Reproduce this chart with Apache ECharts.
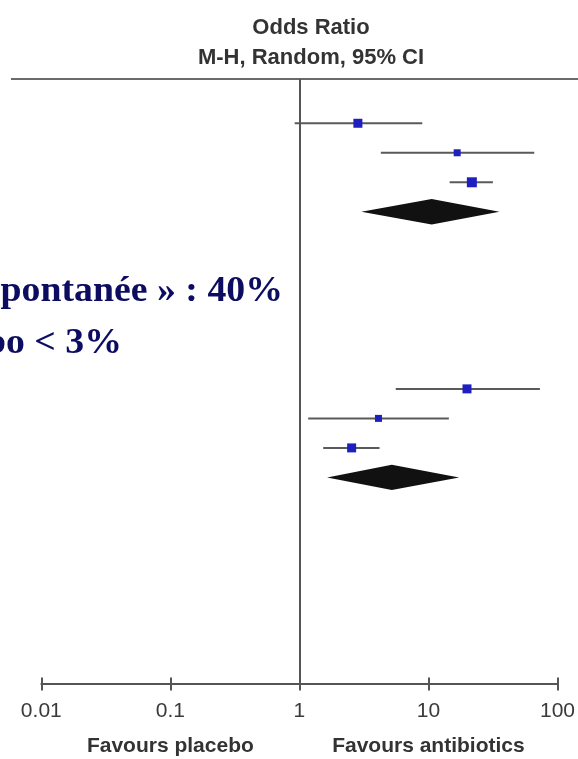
<!DOCTYPE html>
<html>
<head>
<meta charset="utf-8">
<script src="https://cdn.jsdelivr.net/npm/echarts@6/dist/echarts.min.js"></script>
<style>html,body{margin:0;padding:0;background:#fff}#c{width:578px;height:759px}</style>
</head>
<body>
<div id="c"></div>
<script>
// ---- data ----
const studyRows  = [0, 1, 2, 9, 10, 11];
const studyOR    = [2.84, 16.7, 21.7, 19.9, 4.1, 2.54];
const studyLow   = [0.92, 4.28, 14.6, 5.58, 1.17, 1.53];
const studyHigh  = [8.96, 66.1, 31.6, 73.1, 14.4, 4.18];
const studyWeight = [9, 7, 10, 9, 7, 9];
const pooledRows = [3, 12];
const pooledOR   = [10.6, 5.2];
const pooledLow  = [3.02, 1.64];
const pooledHigh = [35.5, 17.3];
const tickValues = [0.01, 0.1, 1, 10, 100];
const tickLabels = ['0.01', '0.1', '1', '10', '100'];
const titleLines = ['Odds Ratio', 'M-H, Random, 95% CI'];
const favourLabels = ['Favours placebo', 'Favours antibiotics'];
const favourAt = [0.1, 10];
const noteLines = ['Guérison « spontanée » : 40%', 'Complications sous placebo < 3%'];

// ---- chart ----
const chart = echarts.init(document.getElementById('c'), null, {renderer: 'canvas'});
const ciData = studyRows.map((r, i) => [r, studyLow[i], studyHigh[i]]);
const sqData = studyRows.map((r, i) => [studyOR[i], r, studyWeight[i]]);
const dmData = pooledRows.map((r, i) => [r, pooledLow[i], pooledOR[i], pooledHigh[i]]);

const fmt = (v) => {
  const k = tickValues.findIndex(t => Math.abs(Math.log10(t) - Math.log10(v)) < 1e-6);
  return k >= 0 ? tickLabels[k] : '';
};

const xBase = {
  type: 'log', logBase: 10, min: tickValues[0], max: tickValues[tickValues.length - 1],
  position: 'bottom', splitLine: {show: false}
};

chart.setOption({
  animation: false,
  backgroundColor: '#fff',
  title: {
    text: titleLines.join('\n'),
    left: 306, top: 8, textAlign: 'center',
    textStyle: {fontFamily: 'Liberation Sans', fontWeight: 'bold', fontSize: 22, color: '#333', lineHeight: 30}
  },
  grid: {left: 41.3, right: 18, top: 79, bottom: 75},
  xAxis: [
    Object.assign({}, xBase, {
      axisLine: {show: true, onZero: false, lineStyle: {color: '#555', width: 2}},
      axisTick: {show: true, inside: false, length: 6.5, lineStyle: {color: '#555', width: 2}},
      axisLabel: {show: true, margin: 17, formatter: fmt, fontFamily: 'Liberation Sans', fontSize: 21, color: '#3a3a3a'}
    }),
    Object.assign({}, xBase, {
      axisLine: {show: false, onZero: false},
      axisTick: {show: true, inside: true, length: 6.5, lineStyle: {color: '#555', width: 2}},
      axisLabel: {show: false}
    })
  ],
  yAxis: {
    type: 'value', inverse: true, min: -1.5, max: 19,
    show: false
  },
  series: [
    {
      type: 'custom', xAxisIndex: 0, z: 2,
      dimensions: ['row', 'low', 'high'],
      encode: {x: [1, 2], y: 0},
      data: ciData,
      renderItem: (params, api) => {
        const a = api.coord([api.value(1), api.value(0)]);
        const b = api.coord([api.value(2), api.value(0)]);
        return {type: 'line', shape: {x1: a[0], y1: a[1], x2: b[0], y2: b[1]},
          style: {stroke: '#5a5a5a', lineWidth: 2}};
      },
      markLine: {
        silent: true, symbol: 'none', label: {show: false},
        lineStyle: {color: '#555', width: 2, type: 'solid'},
        data: [{xAxis: 1}]
      }
    },
    {
      type: 'scatter', xAxisIndex: 0, z: 3,
      symbol: 'rect',
      symbolSize: d => d[2],
      itemStyle: {color: '#1f1fbf', opacity: 1},
      data: sqData
    },
    {
      type: 'custom', xAxisIndex: 0, z: 3,
      dimensions: ['row', 'low', 'or', 'high'],
      encode: {x: [1, 2, 3], y: 0},
      data: dmData,
      renderItem: (params, api) => {
        const l = api.coord([api.value(1), api.value(0)]);
        const c = api.coord([api.value(2), api.value(0)]);
        const h = api.coord([api.value(3), api.value(0)]);
        const hh = 12.7;
        return {type: 'polygon', shape: {points: [[l[0], l[1]], [c[0], c[1] - hh], [h[0], h[1]], [c[0], c[1] + hh]]},
          style: {fill: '#111'}};
      }
    }
  ]
});

const favX = favourAt.map(v => chart.convertToPixel({xAxisIndex: 0}, v));
chart.setOption({
  graphic: [
    {type: 'line', shape: {x1: 11, y1: 79, x2: 578, y2: 79}, style: {stroke: '#6a6a6a', lineWidth: 2}, z: 1},
    {type: 'text', x: favX[0], y: 746, style: {text: favourLabels[0], align: 'center', verticalAlign: 'middle',
      font: 'bold 21px "Liberation Sans"', fill: '#333'}},
    {type: 'text', x: favX[1], y: 746, style: {text: favourLabels[1], align: 'center', verticalAlign: 'middle',
      font: 'bold 21px "Liberation Sans"', fill: '#333'}},
    {type: 'text', x: 283, y: 292, scaleX: 1.05, style: {text: noteLines[0], align: 'right', verticalAlign: 'middle',
      font: 'bold 36px "Liberation Serif"', fill: '#0c0c60'}, z: 10},
    {type: 'text', x: 122, y: 344, scaleX: 1.05, style: {text: noteLines[1], align: 'right', verticalAlign: 'middle',
      font: 'bold 36px "Liberation Serif"', fill: '#0c0c60'}, z: 10}
  ]
});
</script>
</body>
</html>
